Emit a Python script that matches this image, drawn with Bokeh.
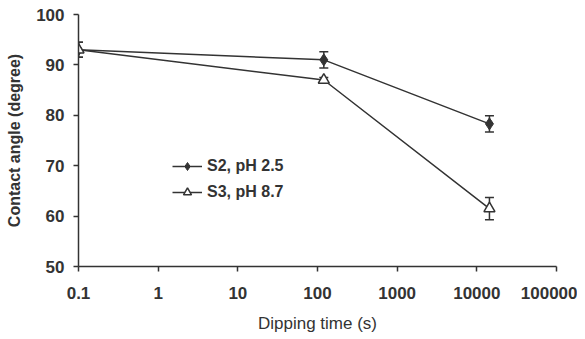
from bokeh.plotting import figure
from bokeh.models import ColumnDataSource, Whisker, TeeHead, FixedTicker, Legend, LegendItem
from bokeh.embed import file_html
from bokeh.resources import INLINE

time_s = [0.1, 120, 14400]
s2_angle = [93.0, 91.0, 78.3]
s2_err = [1.5, 1.6, 1.6]
s3_angle = [93.0, 87.0, 61.5]
s3_err = [1.5, 0.5, 2.2]
x_ticks = [0.1, 1, 10, 100, 1000, 10000, 100000]
x_tick_labels = ["0.1", "1", "10", "100", "1000", "10000", "100000"]
y_ticks = [50, 60, 70, 80, 90, 100]
series_names = ["S2, pH 2.5", "S3, pH 8.7"]

C = "#333333"
FONT = "Liberation Sans"

p = figure(width=577, height=335, x_axis_type="log", x_range=(0.1, 100000), y_range=(50, 100),
           output_backend="svg", toolbar_location=None,
           min_border_left=78, min_border_right=21, min_border_top=14, min_border_bottom=68)
p.outline_line_color = None
p.xgrid.visible = False
p.ygrid.visible = False

def mk(vals, errs):
    return ColumnDataSource(dict(x=time_s, y=vals,
                                 lo=[v - e for v, e in zip(vals, errs)],
                                 hi=[v + e for v, e in zip(vals, errs)]))

src2 = mk(s2_angle, s2_err)
src3 = mk(s3_angle, s3_err)

for src in (src2, src3):
    w = Whisker(source=src, base="x", lower="lo", upper="hi", line_color=C, line_width=1.5,
                lower_head=TeeHead(size=9, line_color=C, line_width=1.5),
                upper_head=TeeHead(size=9, line_color=C, line_width=1.5))
    p.add_layout(w)

l2 = p.line("x", "y", source=src2, line_color=C, line_width=1.5)
m2 = p.scatter("x", "y", source=src2, marker="diamond", size=12, fill_color=C, line_color=C)
l3 = p.line("x", "y", source=src3, line_color=C, line_width=1.5)
m3 = p.scatter("x", "y", source=src3, marker="triangle", size=11, fill_color="white", line_color=C, line_width=1.5)

legend = Legend(items=[LegendItem(label=series_names[0], renderers=[l2, m2]),
                       LegendItem(label=series_names[1], renderers=[l3, m3])],
                location=(94, 64), padding=0, margin=0, spacing=6,
                border_line_color=None, background_fill_alpha=0,
                glyph_width=30, glyph_height=20, label_height=20,
                label_text_font=FONT, label_text_font_style="bold",
                label_text_font_size="16px", label_text_color=C, label_standoff=5)
p.add_layout(legend)

p.xaxis.ticker = FixedTicker(ticks=x_ticks, minor_ticks=[])
p.xaxis.major_label_overrides = {t: l for t, l in zip(x_ticks, x_tick_labels)}
p.yaxis.ticker = FixedTicker(ticks=y_ticks, minor_ticks=[])

for ax in (p.xaxis[0], p.yaxis[0]):
    ax.axis_line_color = C
    ax.axis_line_width = 1.5
    ax.major_tick_line_color = C
    ax.major_tick_line_width = 1.5
    ax.major_tick_out = 5
    ax.major_tick_in = 0
    ax.minor_tick_line_color = None
    ax.major_label_text_font = FONT
    ax.major_label_text_font_style = "bold"
    ax.major_label_text_font_size = "17px"
    ax.major_label_text_color = C
    ax.axis_label_text_font = FONT
    ax.axis_label_text_color = C

p.xaxis.axis_label = "Dipping time (s)"
p.xaxis.axis_label_text_font_style = "normal"
p.xaxis.axis_label_text_font_size = "17px"
p.xaxis.major_label_standoff = 15
p.xaxis.axis_label_standoff = 12
p.yaxis.axis_label = "Contact angle (degree)"
p.yaxis.axis_label_text_font_style = "bold"
p.yaxis.axis_label_text_font_size = "16px"
p.yaxis.major_label_standoff = 9
p.yaxis.axis_label_standoff = 10

open("out.html", "w").write(file_html(p, INLINE))
